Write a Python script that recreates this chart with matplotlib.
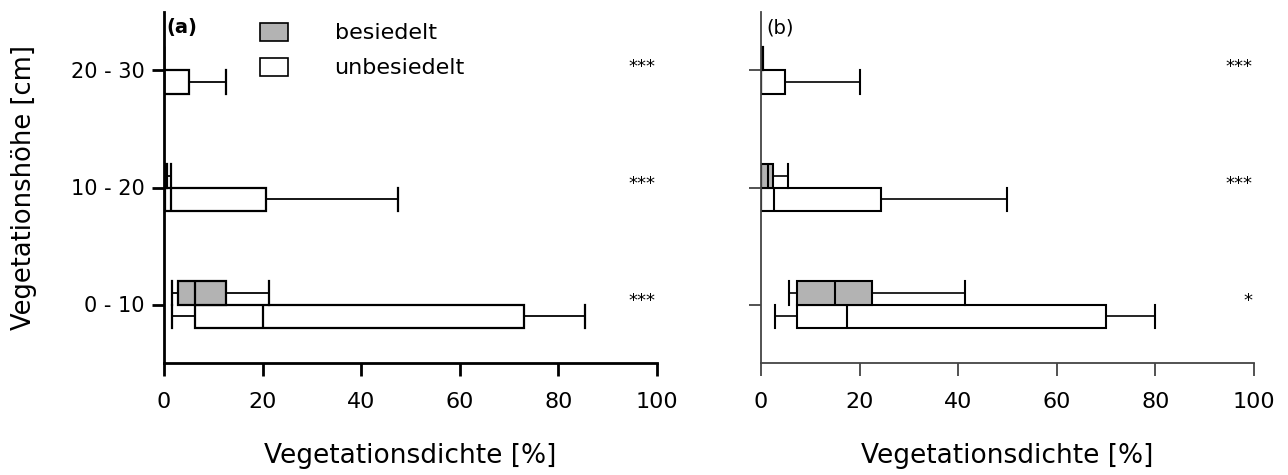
import matplotlib
matplotlib.use("Agg")
import matplotlib.pyplot as plt
from matplotlib.patches import Patch

plt.rcParams['font.family'] = ['DejaVu Sans']

# categories (vegetation height)
cats = ['0 - 10', '10 - 20', '20 - 30']

# five-number summaries per category: [min, q1, median, q3, max]
a_besiedelt = [[1.6, 2.9, 6.3, 12.5, 21.2],
               [0.0, 0.0, 0.3, 0.6, 1.4],
               [0.0, 0.0, 0.0, 0.0, 0.0]]
a_unbesiedelt = [[1.6, 6.3, 20.0, 73.0, 85.4],
                 [0.0, 0.2, 1.4, 20.6, 47.5],
                 [0.0, 0.0, 0.0, 5.0, 12.5]]
b_besiedelt = [[5.7, 7.4, 15.0, 22.5, 41.3],
               [0.0, 0.0, 1.5, 2.5, 5.4],
               [0.0, 0.0, 0.0, 0.4, 0.4]]
b_unbesiedelt = [[2.9, 7.4, 17.4, 70.0, 80.0],
                 [0.0, 0.0, 2.7, 24.3, 49.8],
                 [0.0, 0.0, 0.0, 4.9, 20.0]]

sig_a = ['***', '***', '***']
sig_b = ['*', '***', '***']

xticks = [0, 20, 40, 60, 80, 100]
grey = '#b3b3b3'

W, H = 1288, 475
fig = plt.figure(figsize=(W / 100, H / 100), dpi=100)
ax_a = fig.add_axes([164 / W, 1 - 363 / H, 493 / W, 351 / H])
ax_b = fig.add_axes([761 / W, 1 - 363 / H, 493 / W, 351 / H])


def to_stats(rows):
    return [dict(whislo=r[0], q1=r[1], med=r[2], q3=r[3], whishi=r[4], fliers=[])
            for r in rows]


def panel(ax, bes, unbes, sig, spine_lw, spine_col, lw):
    common = dict(widths=0.2, capwidths=0.2, orientation='horizontal',
                  patch_artist=True, showfliers=False, manage_ticks=False,
                  medianprops=dict(color='k', linewidth=lw),
                  whiskerprops=dict(color='k', linewidth=lw * 0.8),
                  capprops=dict(color='k', linewidth=lw))
    ax.bxp(to_stats(unbes), positions=[i - 0.1 for i in range(len(cats))],
           boxprops=dict(facecolor='white', edgecolor='k', linewidth=lw), **common)
    ax.bxp(to_stats(bes), positions=[i + 0.1 for i in range(len(cats))],
           boxprops=dict(facecolor=grey, edgecolor='k', linewidth=lw), **common)
    for i, s in enumerate(sig):
        ax.text(99.7, i + 0.03, s, ha='right', va='center', fontsize=13)
    ax.set_xlim(0, 100)
    ax.set_ylim(-0.5, 2.5)
    ax.set_xticks(xticks)
    ax.set_yticks(range(len(cats)), cats)
    for sp in ['top', 'right']:
        ax.spines[sp].set_visible(False)
    for sp in ['left', 'bottom']:
        ax.spines[sp].set_linewidth(spine_lw)
        ax.spines[sp].set_color(spine_col)
    ax.tick_params(axis='x', length=9, width=spine_lw, color=spine_col,
                   labelsize=16, pad=12)
    ax.tick_params(axis='y', length=9, width=spine_lw, color=spine_col,
                   labelsize=15, pad=5)
    ax.set_xlabel('Vegetationsdichte [%]', fontsize=19, labelpad=22)


panel(ax_a, a_besiedelt, a_unbesiedelt, sig_a, 2.0, 'k', 1.6)
panel(ax_b, b_besiedelt, b_unbesiedelt, sig_b, 1.3, '#444444', 1.5)
ax_b.set_yticklabels([])

ax_a.set_ylabel('Vegetationshöhe [cm]', fontsize=18.5, labelpad=24)
ax_a.text(0.005, 0.955, '(a)', transform=ax_a.transAxes, fontsize=14,
          fontweight='bold', ha='left', va='center')
ax_b.text(0.01, 0.955, '(b)', transform=ax_b.transAxes, fontsize=14,
          ha='left', va='center')

handles = [Patch(facecolor=grey, edgecolor='k', linewidth=1.2),
           Patch(facecolor='white', edgecolor='k', linewidth=1.2)]
ax_a.legend(handles, ['besiedelt', 'unbesiedelt'], loc='upper left',
            bbox_to_anchor=(0.195, 0.969), frameon=False, fontsize=16,
            handlelength=1.25, handleheight=0.85, handletextpad=2.1,
            labelspacing=0.65, borderpad=0, borderaxespad=0)

fig.savefig('out.png', dpi=100)
